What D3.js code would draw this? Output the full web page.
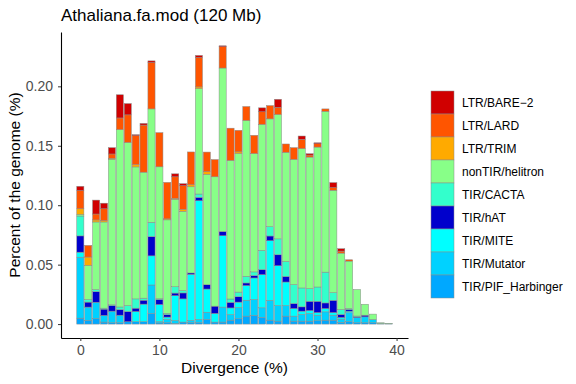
<!DOCTYPE html>
<html>
<head>
<meta charset="utf-8">
<script src="https://cdn.jsdelivr.net/npm/d3@7"></script>
<style>
  body { margin: 0; background: #fff; }
  svg { font-family: "Liberation Sans", Arial, sans-serif; }
</style>
</head>
<body>
<svg id="chart" width="576" height="384"></svg>
<script>
// divergence bins (%)
const divergence = [0, 1, 2, 3, 4, 5, 6, 7, 8, 9, 10, 11, 12, 13, 14, 15, 16, 17, 18, 19,
  20, 21, 22, 23, 24, 25, 26, 27, 28, 29, 30, 31, 32, 33, 34, 35, 36, 37, 38, 39];

// percent of genome per superfamily, one value per bin
const pifHarbinger = [0.0050, 0.0031, 0.0047, 0.0017, 0.0011, 0.0011, 0.0020, 0.0020, 0.0020, 0.0089,
  0.0010, 0.0011, 0.0005, 0.0017, 0.0011, 0.0011, 0.0039, 0.0017, 0.0017, 0.0033,
  0.0045, 0.0067, 0.0073, 0.0056, 0.0033, 0.0025, 0.0067, 0.0025, 0.0025, 0.0025,
  0.0028, 0.0033, 0.0033, 0.0014, 0.0020, 0.0011, 0.0011, 0.0011, 0.0005, 0.0003];
const mutator = [0.0513, 0.0112, 0.0137, 0.0056, 0.0098, 0.0064, 0, 0, 0, 0.0240,
  0.0010, 0.0028, 0.0025, 0, 0.0020, 0.0028, 0.0061, 0, 0.0126, 0.0047,
  0.0095, 0.0134, 0.0134, 0.0081, 0.0167, 0.0131, 0.0089, 0.0042, 0.0056, 0.0064,
  0.0047, 0.0070, 0.0042, 0.0028, 0.0075, 0.0045, 0.0050, 0.0028, 0, 0];
const mite = [0.0042, 0, 0, 0, 0, 0, 0, 0.0086, 0.0148, 0.0245,
  0.0145, 0.0020, 0.0209, 0.0195, 0.0388, 0.0999, 0.0195, 0.0073, 0.0600, 0.0056,
  0.0045, 0.0123, 0.0181, 0.0279, 0.0502, 0.0335, 0.0198, 0.0064, 0.0028, 0.0025,
  0.0022, 0.0028, 0.0022, 0.0014, 0.0014, 0, 0, 0, 0, 0];
const hat = [0.0137, 0.0042, 0.0089, 0.0053, 0.0047, 0.0047, 0.0086, 0.0028, 0.0033, 0.0162,
  0.0042, 0.0020, 0.0022, 0.0050, 0.0011, 0.0028, 0.0036, 0.0061, 0.0036, 0.0047,
  0.0045, 0.0022, 0.0020, 0.0042, 0.0039, 0.0092, 0.0047, 0.0042, 0.0036, 0.0078,
  0.0095, 0.0047, 0.0103, 0.0025, 0.0014, 0.0006, 0.0014, 0, 0, 0];
const cacta = [0.0167, 0.0022, 0.0017, 0.0008, 0.0006, 0.0022, 0.0050, 0.0078, 0.0017, 0.0120,
  0.0006, 0.0011, 0.0053, 0.0020, 0, 0.0028, 0, 0, 0, 0.0028,
  0.0039, 0.0056, 0.0031, 0.0162, 0.0078, 0.0134, 0.0126, 0.0159, 0.0159, 0.0106,
  0.0120, 0.0259, 0.0064, 0.0042, 0.0008, 0.0006, 0, 0, 0, 0];
const helitron = [0.0014, 0.0287, 0.0569, 0.0725, 0.1225, 0.1492, 0.1372, 0.1110, 0.1060, 0.0954,
  0.1110, 0.0787, 0.0736, 0.0667, 0.0725, 0.0887, 0.0929, 0.1088, 0.1375, 0.1166,
  0.1166, 0.1311, 0.0996, 0.1060, 0.0907, 0.1046, 0.0918, 0.1054, 0.1172, 0.1107,
  0.1177, 0.1353, 0.0862, 0.0474, 0.0399, 0.0223, 0.0092, 0.0045, 0.0006, 0.0003];
const trim = [0.0047, 0.0070, 0.0017, 0.0011, 0.0008, 0, 0, 0.0020, 0, 0,
  0, 0.0008, 0.0008, 0.0017, 0.0017, 0.0014, 0.0022, 0, 0, 0,
  0.0014, 0, 0, 0, 0, 0, 0, 0, 0, 0,
  0, 0, 0, 0, 0, 0, 0, 0, 0, 0];
const lard = [0.0153, 0.0098, 0.0050, 0.0100, 0.0036, 0.0098, 0.0232, 0.0243, 0.0396, 0.0390,
  0.0287, 0.0307, 0.0181, 0.0198, 0.0276, 0.0248, 0.0165, 0.0145, 0.0179, 0.0271,
  0.0181, 0.0117, 0.0153, 0.0106, 0.0112, 0.0061, 0.0070, 0.0098, 0.0078, 0.0017,
  0.0028, 0.0020, 0.0022, 0.0017, 0.0011, 0, 0, 0, 0, 0];
const bare2 = [0.0036, 0, 0.0117, 0.0047, 0.0053, 0.0195, 0.0095, 0.0008, 0.0014, 0.0014,
  0, 0, 0.0025, 0.0017, 0, 0.0017, 0, 0, 0.0008, 0,
  0, 0, 0, 0.0033, 0, 0.0067, 0, 0, 0.0028, 0.0011,
  0.0008, 0, 0.0042, 0.0020, 0, 0, 0, 0, 0, 0];

// stacking order, bottom to top
const categories = ["TIR/PIF_Harbinger", "TIR/Mutator", "TIR/MITE", "TIR/hAT", "TIR/CACTA",
  "nonTIR/helitron", "LTR/TRIM", "LTR/LARD", "LTR/BARE\u22122"];
const seriesValues = [pifHarbinger, mutator, mite, hat, cacta, helitron, trim, lard, bare2];
const fills = ["#00A8FF", "#00D2FF", "#00FFFF", "#0000CC", "#33FFCC",
  "#88FF88", "#FFAA00", "#FF5500", "#D00000"];

const yTicks = [0, 0.05, 0.1, 0.15, 0.2];
const xTicks = [0, 10, 20, 30, 40];

// build the table d3.stack wants
const table = divergence.map((d, i) => {
  const row = { div: d };
  categories.forEach((c, j) => (row[c] = seriesValues[j][i]));
  return row;
});
const stacked = d3.stack().keys(categories)(table);

const svg = d3.select("#chart");
const panel = { left: 61, right: 408, top: 32, bottom: 338 };

const x = d3.scaleLinear().domain([-2.445, 41.445]).range([panel.left, panel.right]);
const y = d3.scaleLinear().domain([-0.0117, 0.2457]).range([panel.bottom, panel.top]);
const halfBar = 0.45;

// stacked bars
svg
  .append("g")
  .selectAll("g")
  .data(stacked)
  .join("g")
  .attr("fill", (d, i) => fills[i])
  .selectAll("rect")
  .data((d) => d.filter((s) => s[1] - s[0] > 0))
  .join("rect")
  .attr("x", (d) => x(d.data.div - halfBar))
  .attr("width", (d) => x(d.data.div + halfBar) - x(d.data.div - halfBar))
  .attr("y", (d) => y(d[1]))
  .attr("height", (d) => y(d[0]) - y(d[1]))
  .attr("stroke", "#8a8a8a")
  .attr("stroke-width", 0.5);

// axes
const yAxis = svg
  .append("g")
  .attr("transform", `translate(${panel.left},0)`)
  .call(
    d3.axisLeft(y).tickValues(yTicks).tickFormat(d3.format(".2f")).tickSize(3).tickSizeOuter(0).tickPadding(5)
  );
const xAxis = svg
  .append("g")
  .attr("transform", `translate(0,${panel.bottom})`)
  .call(d3.axisBottom(x).tickValues(xTicks).tickFormat(d3.format("d")).tickSize(3).tickSizeOuter(0).tickPadding(4));

[yAxis, xAxis].forEach((ax) => {
  ax.select(".domain").attr("stroke", "#000").attr("stroke-width", 1.1);
  ax.selectAll(".tick line").attr("stroke", "#333");
  ax.selectAll(".tick text")
    .attr("fill", "#4D4D4D")
    .style("font-size", "14px")
    .style("font-family", "'Liberation Sans', Arial, sans-serif");
});

// titles
svg.append("text")
  .attr("x", 61)
  .attr("y", 21)
  .style("font-size", "17px")
  .text("Athaliana.fa.mod (120 Mb)");
svg.append("text")
  .attr("x", (panel.left + panel.right) / 2)
  .attr("y", 373)
  .attr("text-anchor", "middle")
  .style("font-size", "15.5px")
  .text("Divergence (%)");
svg.append("text")
  .attr("transform", `translate(20,${(panel.top + panel.bottom) / 2}) rotate(-90)`)
  .attr("text-anchor", "middle")
  .style("font-size", "15.5px")
  .text("Percent of the genome (%)");

// legend, listed top to bottom in reverse stack order
const legendKeys = categories.slice().reverse();
const legendFills = fills.slice().reverse();
const keySize = 23;
const legend = svg
  .append("g")
  .attr("transform", "translate(431,91)")
  .selectAll("g")
  .data(legendKeys)
  .join("g")
  .attr("transform", (d, i) => `translate(0,${i * keySize})`);
legend
  .append("rect")
  .attr("width", keySize)
  .attr("height", keySize)
  .attr("fill", (d, i) => legendFills[i])
  .attr("stroke", "#8a8a8a")
  .attr("stroke-width", 0.5);
legend
  .append("text")
  .attr("x", 31)
  .attr("y", keySize / 2)
  .attr("dy", "0.35em")
  .style("font-size", "12px")
  .text((d) => d);
</script>
</body>
</html>
